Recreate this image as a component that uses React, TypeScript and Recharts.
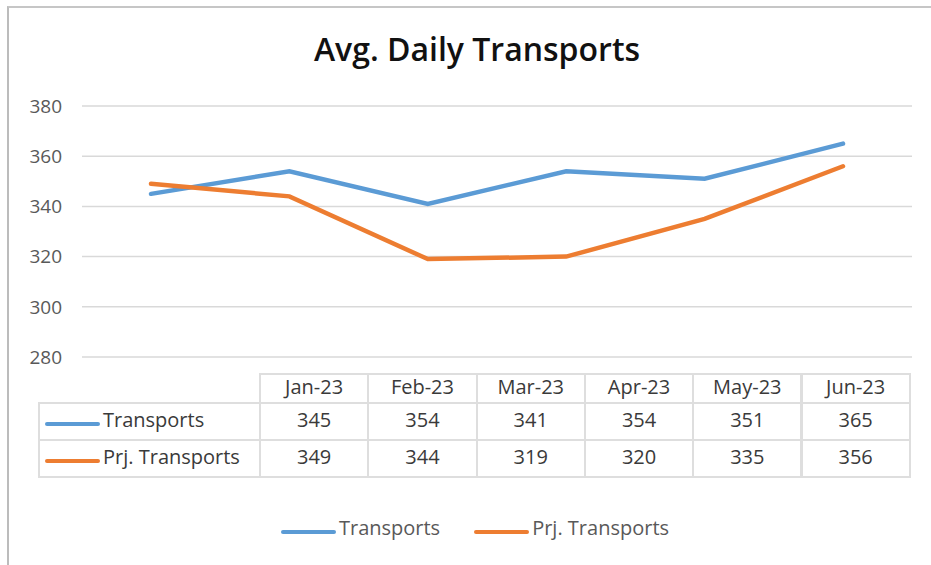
import React from "react"
import { CartesianGrid, Line, LineChart, XAxis, YAxis } from "recharts"

const months = ["Jan-23", "Feb-23", "Mar-23", "Apr-23", "May-23", "Jun-23"]
const transports = [345, 354, 341, 354, 351, 365]
const prjTransports = [349, 344, 319, 320, 335, 356]
const yTicks = [280, 300, 320, 340, 360, 380]

const series = [
  { key: "transports", name: "Transports", color: "#5B9BD5", values: transports },
  { key: "prj", name: "Prj. Transports", color: "#ED7D31", values: prjTransports },
]

const data = months.map((m, i) => ({
  month: m,
  transports: transports[i],
  prj: prjTransports[i],
}))

const FONT = "'Open Sans', 'Liberation Sans', sans-serif"
const BORDER = "2px solid #dedede"

function Swatch({ color }: { color: string }) {
  return (
    <span
      style={{
        display: "inline-block",
        width: 55,
        height: 4,
        borderRadius: 2,
        background: color,
        marginRight: 3,
        marginTop: 8,
      }}
    />
  )
}

function BottomLegend() {
  return (
    <div
      style={{
        position: "absolute",
        left: 0,
        top: 514,
        width: 950,
        display: "flex",
        justifyContent: "center",
        gap: 34,
        fontFamily: FONT,
      }}
    >
      {series.map((s) => (
        <div key={s.key} style={{ display: "flex", alignItems: "center" }}>
          <Swatch color={s.color} />
          <span style={{ fontSize: 20, color: "#595959" }}>{s.name}</span>
        </div>
      ))}
    </div>
  )
}

function DataTable() {
  const left = 38
  const firstW = 223
  const colW = 108.3
  const top = 373
  const headH = 31
  const rowH = 39
  const cells: React.ReactNode[] = []
  const textStyle = {
    fontFamily: FONT,
    fontSize: 20,
    color: "#3a3a3a",
    fontWeight: 500,
  }
  months.forEach((m, i) => {
    cells.push(
      <div
        key={"h" + i}
        style={{
          position: "absolute",
          left: left + firstW + i * colW - 2,
          top,
          width: colW + 2,
          height: headH,
          border: BORDER,
          boxSizing: "border-box",
          display: "flex",
          alignItems: "center",
          justifyContent: "center",
          paddingBottom: 5,
          ...textStyle,
        }}
      >
        {m}
      </div>,
    )
  })
  series.forEach((s, r) => {
    const y = top + headH - 2 + r * (rowH - 2)
    cells.push(
      <div
        key={"l" + r}
        style={{
          position: "absolute",
          left,
          top: y,
          width: firstW,
          height: rowH,
          border: BORDER,
          boxSizing: "border-box",
          display: "flex",
          alignItems: "center",
          paddingLeft: 5,
          paddingBottom: 4,
          ...textStyle,
        }}
      >
        <Swatch color={s.color} />
        {s.name}
      </div>,
    )
    s.values.forEach((v, i) => {
      cells.push(
        <div
          key={"c" + r + i}
          style={{
            position: "absolute",
            left: left + firstW + i * colW - 2,
            top: y,
            width: colW + 2,
            height: rowH,
            border: BORDER,
            boxSizing: "border-box",
            display: "flex",
            alignItems: "center",
            justifyContent: "center",
            paddingBottom: 4,
            ...textStyle,
          }}
        >
          {v}
        </div>,
      )
    })
  })
  return <>{cells}</>
}

export default function App() {
  return (
    <div
      style={{
        position: "absolute",
        left: 0,
        top: 0,
        width: 931,
        height: 565,
        background: "#fff",
        overflow: "hidden",
      }}
    >
      <div
        style={{
          position: "absolute",
          left: 7,
          top: 6,
          width: 930,
          height: 570,
          borderTop: "2px solid #c6c6c6",
          borderLeft: "2px solid #bcbcbc",
        }}
      />
      <div
        style={{
          position: "absolute",
          left: 0,
          width: 954,
          top: 27,
          textAlign: "center",
          fontFamily: FONT,
          fontWeight: 600,
          fontSize: 32,
          color: "#111",
        }}
      >
        Avg. Daily Transports
      </div>
      <div style={{ position: "absolute", left: 0, top: 0 }}>
        <LineChart
          width={931}
          height={565}
          data={data}
          margin={{ top: 106, right: 19, bottom: 208, left: 22 }}
        >
          <CartesianGrid stroke="#d9d9d9" strokeWidth={1.5} vertical={false} />
          <XAxis dataKey="month" hide padding={{ left: 69, right: 69 }} />
          <YAxis
            domain={[280, 380]}
            ticks={yTicks}
            width={60}
            axisLine={false}
            tickLine={false}
            tickSize={0}
            tickMargin={20}
            tick={{ fill: "#595959", fontSize: 19, fontFamily: FONT }}
          />
          {series.map((s) => (
            <Line
              key={s.key}
              type="linear"
              dataKey={s.key}
              name={s.name}
              stroke={s.color}
              strokeWidth={4.5}
              strokeLinecap="round"
              dot={false}
              isAnimationActive={false}
            />
          ))}
        </LineChart>
      </div>
      <DataTable />
      <BottomLegend />
    </div>
  )
}
